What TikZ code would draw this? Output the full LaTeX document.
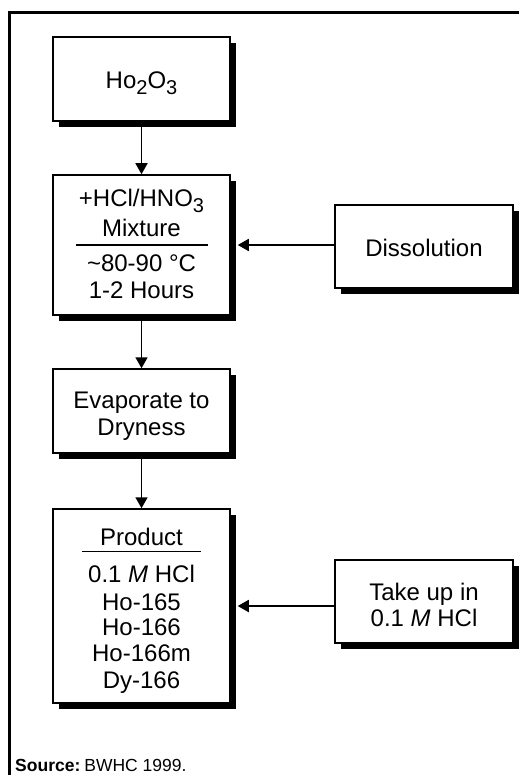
\documentclass[tikz,border=0pt]{standalone}
\usepackage{fontspec}
\setmainfont{Liberation Sans}
\usetikzlibrary{arrows.meta,shadows}
\newcommand\sbs[1]{\raisebox{-6pt}{\fontsize{20}{20}\selectfont #1}}
\begin{document}
\begin{tikzpicture}[x=1pt,y=-1pt,
  box/.style={draw,line width=1.5pt,fill=white,minimum width=177pt,inner sep=0pt,
    drop shadow={shadow xshift=6pt,shadow yshift=-6pt,fill=black,opacity=1}},
  txt/.style={anchor=base,inner sep=0pt,font=\fontsize{24}{26}\selectfont},
  arr/.style={line width=1.8pt,-{Triangle[width=12pt,length=11pt]}},
  sep/.style={line width=1.4pt}]
\useasboundingbox (0,0) rectangle (519,775);
\draw[line width=3pt] (9.5,775) -- (9.5,12.5) -- (519,12.5);
% boxes
\node[box,minimum height=84pt] (b1) at (141.5,79) {};
\node[box,minimum height=140pt] (b2) at (141.5,245) {};
\node[box,minimum height=84pt] (b3) at (141.5,411) {};
\node[box,minimum height=194pt] (b4) at (141.5,606) {};
\node[box,minimum width=178pt,minimum height=83pt] (diss) at (424,246.5) {};
\node[box,minimum width=178pt,minimum height=83pt] (take) at (424,601.7) {};
% texts
\node[txt] (t1) at (141.5,89) {Ho\sbs{2}O\sbs{3}};
\node[txt] (t2a) at (141.5,206.7) {+HCl/HNO\sbs{3}};
\node[txt] (t2b) at (141.5,236.7) {Mixture};
\node[txt] (t2c) at (141.5,271.7) {\textasciitilde 80-90 °C};
\node[txt] (t2d) at (141.5,298.3) {1-2 Hours};
\coordinate (r1a) at (76,245);
\coordinate (r1b) at (208,245);
\draw[sep] (r1a) -- (r1b);
\node[txt] (t3a) at (141.5,408.3) {Evaporate to};
\node[txt] (t3b) at (141.5,435) {Dryness};
\node[txt] (t4a) at (141.5,545) {Product};
\coordinate (r2a) at (82,551.7);
\coordinate (r2b) at (201,551.7);
\draw[sep] (r2a) -- (r2b);
\node[txt] (t4b) at (141.5,582.7) {0.1 \textit{M} HCl};
\node[txt] (t4c) at (141.5,610) {Ho-165};
\node[txt] (t4d) at (141.5,635.5) {Ho-166};
\node[txt] (t4e) at (141.5,661.7) {Ho-166m};
\node[txt] (t4f) at (141.5,688) {Dy-166};
\node[txt] (td) at (424,256.7) {Dissolution};
\node[txt] (tk1) at (424,600) {Take up in};
\node[txt] (tk2) at (424,626) {0.1 \textit{M} HCl};
\node[anchor=base west,inner sep=0pt,font=\fontsize{17.5}{20}\selectfont] (src) at (15,771) {\textbf{Source:}\hspace{4pt}BWHC 1999.};
% connectors
\draw[arr] (b1.south) -- (b2.north);
\draw[arr] (b2.south) -- (b3.north);
\draw[arr] (b3.south) -- (b4.north);
\draw[arr,shorten >=7pt] (diss.west |- b2.east) -- (b2.east);
\draw[arr,shorten >=7pt] (take.west |- b4.east) -- (b4.east);
\end{tikzpicture}
\end{document}
